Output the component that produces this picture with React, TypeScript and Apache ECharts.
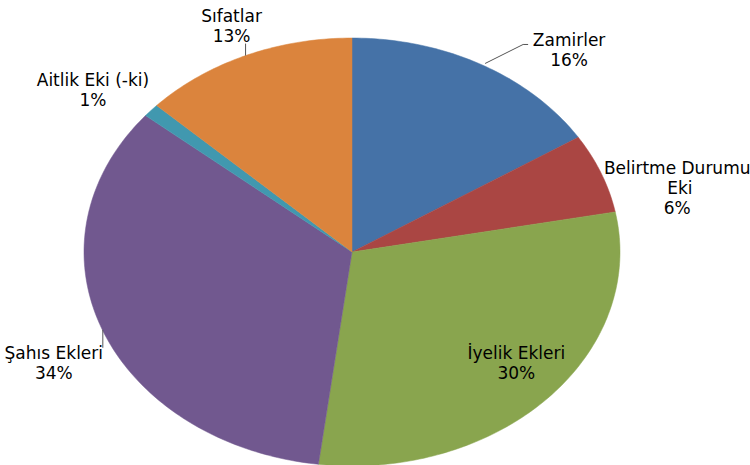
import React, { useEffect, useRef } from 'react';
import * as echarts from 'echarts';

// ---- data ----
const categories = ['Zamirler', 'Belirtme Durumu Eki', 'İyelik Ekleri', 'Şahıs Ekleri', 'Aitlik Eki (-ki)', 'Sıfatlar'];
const values = [16, 6, 30, 34, 1, 13];

// ---- styles / layout ----
const colors = ['#4572A7', '#AA4643', '#89A54E', '#71588F', '#4198AF', '#DB843D'];
const PIE = { cx: 352, cy: 252, rx: 268, ry: 214 };
// label offsets relative to the slice's outer edge at its mid-angle
const LABEL_LAYOUT: { dx: number; dy: number; width?: number; leader?: number[][] }[] = [
  { dx: 88, dy: -14, leader: [[4, -1], [42, -20], [47, -20]] },
  { dx: 76, dy: 15, width: 150 },
  { dx: -31, dy: -35 },
  { dx: -49, dy: 32, leader: [[0, -1], [0, 17]] },
  { dx: -58, dy: -20 },
  { dx: -14, dy: -30, leader: [[0, 0], [0, -12]] },
];
const FONT = '17px "DejaVu Sans"';

function pointAt(f: number, k = 1) {
  const t = 2 * Math.PI * f;
  return [PIE.cx + PIE.rx * k * Math.sin(t), PIE.cy - PIE.ry * k * Math.cos(t)];
}

export default function App() {
  const ref = useRef<HTMLDivElement>(null);
  useEffect(() => {
    if (!ref.current) return;
    const chart = echarts.init(ref.current, undefined, { renderer: 'svg' });
    const total = values.reduce((a, b) => a + b, 0);
    chart.setOption({
      animation: false,
      backgroundColor: '#ffffff',
      series: [
        {
          type: 'custom',
          coordinateSystem: 'none',
          data: values.map((v, i) => ({ name: categories[i], value: [v] })),
          renderItem: (params: any, api: any) => {
            const i = params.dataIndex;
            const v = api.value(0);
            let before = 0;
            for (let j = 0; j < i; j++) before += values[j];
            const f0 = before / total;
            const f1 = (before + v) / total;
            const steps = Math.max(2, Math.ceil((f1 - f0) * 360));
            const pts: number[][] = [[PIE.cx, PIE.cy]];
            for (let s = 0; s <= steps; s++) pts.push(pointAt(f0 + ((f1 - f0) * s) / steps));
            const mid = pointAt((f0 + f1) / 2);
            const lay = LABEL_LAYOUT[i];
            const pct = Math.round((v / total) * 100) + '%';
            const children: any[] = [
              {
                type: 'polygon',
                shape: { points: pts },
                style: { fill: colors[i], stroke: colors[i], lineWidth: 0.5 },
              },
              {
                type: 'text',
                z2: 20,
                style: {
                  text: categories[i] + '\n' + pct,
                  x: mid[0] + lay.dx,
                  y: mid[1] + lay.dy,
                  align: 'center',
                  verticalAlign: 'middle',
                  fill: '#000000',
                  font: FONT,
                  lineHeight: 20,
                  ...(lay.width ? { width: lay.width, overflow: 'break' } : {}),
                },
              },
            ];
            if (lay.leader) {
              children.push({
                type: 'polyline',
                z2: 15,
                shape: { points: lay.leader.map((p) => [mid[0] + p[0], mid[1] + p[1]]) },
                style: { stroke: '#555555', lineWidth: 1, fill: 'none' },
              });
            }
            return { type: 'group', children };
          },
        },
      ],
    });
    return () => chart.dispose();
  }, []);
  return <div ref={ref} style={{ position: 'absolute', left: 0, top: 0, width: 750, height: 465 }} />;
}
